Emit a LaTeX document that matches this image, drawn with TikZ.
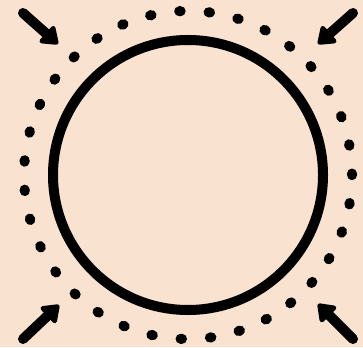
\documentclass[tikz,border=0pt]{standalone}
\usepackage{xcolor}
\usepackage{tikz}
\usetikzlibrary{arrows.meta}
\definecolor{peachbg}{RGB}{249,226,208}

\begin{document}
\begin{tikzpicture}[
    x=1pt, y=-1pt,
    ring/.style={draw, circle, line width=10pt, minimum size=270pt, inner sep=0pt},
    dotring/.style={draw, circle, line width=10pt, minimum size=328pt, inner sep=0pt,
                    line cap=round, dash pattern=on 1.5pt off 27.94pt},
    push/.style={-{Triangle[length=18pt, width=25pt, round]}, line width=10pt, line cap=round},
]
\fill[peachbg] (0,0) rectangle (363,347);
\useasboundingbox (0,0) rectangle (363,347);
\coordinate (c) at (188,175);
\node[ring] (wall) at (c) {};
\node[dotring] (halo) at (c) {};
% arrows pressing in from the corners
\coordinate (tltail) at (23,13);
\coordinate (tltip) at (58,44);
\coordinate (trtail) at (353,13);
\coordinate (trtip) at (318,44);
\coordinate (bltail) at (23,339);
\coordinate (bltip) at (59,305);
\coordinate (brtail) at (353,339);
\coordinate (brtip) at (318,304);
\draw[push] (tltail) -- (tltip);
\draw[push] (trtail) -- (trtip);
\draw[push] (bltail) -- (bltip);
\draw[push] (brtail) -- (brtip);
\end{tikzpicture}
\end{document}
